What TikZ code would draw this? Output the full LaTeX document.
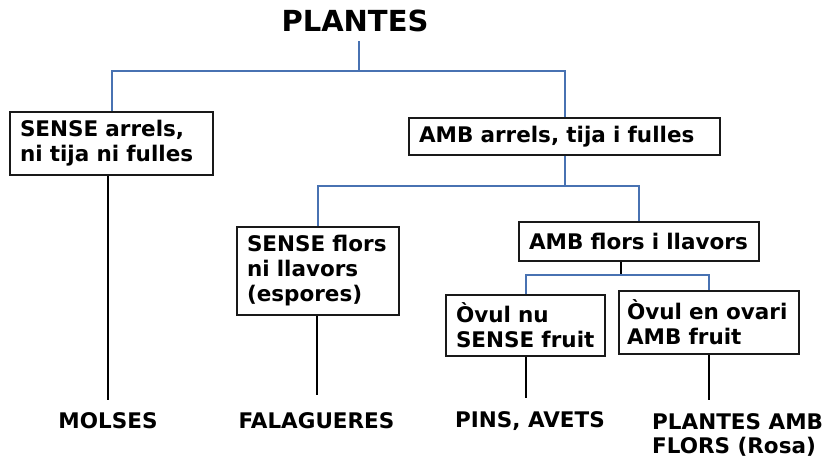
\documentclass[tikz,border=0pt]{standalone}
\usepackage{fontspec}
\setmainfont{DejaVu Sans}
\usetikzlibrary{positioning,calc}
\definecolor{treeblue}{RGB}{72,114,178}
\tikzset{
  box/.style={draw=black!90, line width=1.6pt, align=left, inner xsep=10pt,
    font=\fontsize{21.5}{25}\selectfont\bfseries},
  leaf/.style={inner xsep=0pt, inner ysep=13pt, align=left,
    font=\fontsize{21.5}{24}\selectfont\bfseries},
  link/.style={draw=treeblue, line width=2pt},
  drop/.style={draw=black, line width=2pt}
}
\begin{document}
\begin{tikzpicture}[x=1pt, y=-1pt, line join=miter]
\useasboundingbox (0,0) rectangle (829,457);
% title and first split
\node[inner ysep=9pt, font=\fontsize{29}{32}\selectfont\bfseries] (plantes) at (355,21) {PLANTES};
\node[box, text width=183pt, minimum height=63pt] (sensearr) at (111.5,143.5) {SENSE arrels,\\ni tija ni fulles};
\node[box, text width=291pt, minimum height=37pt] (ambarr) at (564.5,136.5) {AMB arrels, tija i fulles};
% second split
\node[box, text width=142pt, minimum height=88pt] (senseflors) at (318,271) {SENSE flors\\ni llavors\\(espores)};
\node[box, text width=220pt, minimum height=39pt] (ambflors) at (639,241.5) {AMB flors i llavors};
% third split
\node[box, text width=139pt, minimum height=61pt] (ovulnu) at (525.5,325.5) {Òvul nu\\SENSE fruit};
\node[box, inner xsep=8pt, text width=164pt, minimum height=63pt] (ovari) at (709,322.5) {Òvul en ovari\\AMB fruit};
% groups at the bottom
\node[leaf] (molses) at (108,421) {MOLSES};
\node[leaf] (falagueres) at (316.5,421) {FALAGUERES};
\node[leaf] (pins) at (530,421) {PINS, AVETS};
\node[leaf, anchor=north west] (roses) at (652,400) {PLANTES AMB\\FLORS (Rosa)};
% branch points
\coordinate (j1) at (359,71);
\coordinate (j2) at (564.5,186);
\coordinate (j3) at (621,275);
\draw[link] (j1 |- plantes.south) -- (j1);
\draw[link] (sensearr.north) |- (j1) -| (ambarr.north);
\draw[link] (ambarr.south) -- (j2);
\draw[link] (senseflors.north) |- (j2) -| (ambflors.north);
\draw[drop] (j3 |- ambflors.south) -- (j3);
\draw[link] (ovulnu.north) |- (j3) -| (ovari.north);
% drops to the groups
\draw[drop] (molses.north |- sensearr.south) -- (molses.north);
\draw[drop] (falagueres.north |- senseflors.south) -- ($(falagueres.north)+(0,-5)$);
\draw[drop] (ovulnu.south) -- (ovulnu.south |- pins.north);
\draw[drop] (ovari.south) -- (ovari.south |- roses.north);
\end{tikzpicture}
\end{document}
